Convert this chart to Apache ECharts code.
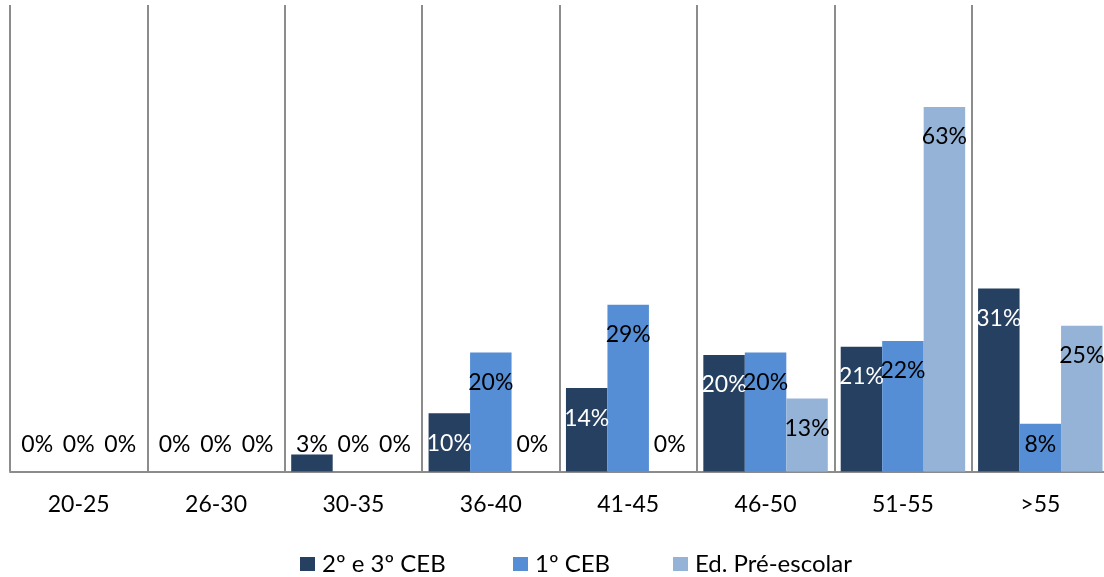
<!DOCTYPE html>
<html>
<head>
<meta charset="utf-8">
<script src="https://cdn.jsdelivr.net/npm/echarts@6/dist/echarts.min.js"></script>
<style>
html,body{margin:0;padding:0;background:#fff;}
#chart{width:1104px;height:577px;}
</style>
</head>
<body>
<div id="chart"></div>
<script>
const categories = ['20-25', '26-30', '30-35', '36-40', '41-45', '46-50', '51-55', '>55'];
const seriesNames = ['2º e 3º CEB', '1º CEB', 'Ed. Pré-escolar'];
const ceb23 = [0, 0, 2.9, 10, 14.3, 20, 21.4, 31.4];
const ceb1 = [0, 0, 0, 20.4, 28.6, 20.4, 22.4, 8.2];
const preEscolar = [0, 0, 0, 0, 0, 12.5, 62.5, 25];

const colors = ['#254061', '#558ed5', '#95b3d7'];
const FONT = 'Lato';
const FS = 23;
const legendLefts = [300, 513, 673];

function items(values, insideColor) {
  return values.map(v => {
    const inside = v >= 9.7;
    return {
      value: v,
      label: inside
        ? { position: 'insideTop', distance: 18.5, color: insideColor }
        : { position: 'insideBottom', distance: 15, color: '#000' }
    };
  });
}

const chart = echarts.init(document.getElementById('chart'), null, { renderer: 'canvas' });
const baseLabel = {
  show: true,
  fontFamily: FONT,
  fontSize: FS,
  lineHeight: 23,
  color: '#000',
  formatter: p => Math.round(p.value) + '%'
};
chart.setOption({
  animation: false,
  color: colors,
  grid: { left: 10, top: 5, width: 1099, bottom: 105.5, containLabel: false, outerBoundsMode: 'none' },
  legend: seriesNames.map((n, i) => ({
    left: legendLefts[i],
    top: 552,
    padding: 0,
    icon: 'rect',
    itemWidth: 15,
    itemHeight: 14,
    textStyle: { fontFamily: FONT, fontSize: 24, color: '#000', padding: [0, 0, 0, 2] },
    data: [n]
  })),
  xAxis: {
    type: 'category',
    data: categories,
    boundaryGap: true,
    axisLine: { show: true, lineStyle: { color: '#8c8c8c', width: 2 } },
    axisTick: { show: false },
    axisLabel: { fontFamily: FONT, fontSize: FS, color: '#000', margin: 22 },
    splitLine: { show: true, lineStyle: { color: '#8c8c8c', width: 2 } }
  },
  yAxis: {
    type: 'value',
    min: 0,
    max: 80,
    show: false,
    splitLine: { show: false }
  },
  series: [
    { name: seriesNames[0], type: 'bar', data: items(ceb23, '#fff'), barGap: '0%', barCategoryGap: '9.4%', label: baseLabel },
    { name: seriesNames[1], type: 'bar', data: items(ceb1, '#000'), barGap: '0%', barCategoryGap: '9.4%', label: baseLabel },
    { name: seriesNames[2], type: 'bar', data: items(preEscolar, '#000'), barGap: '0%', barCategoryGap: '9.4%', label: baseLabel }
  ]
});
</script>
</body>
</html>
